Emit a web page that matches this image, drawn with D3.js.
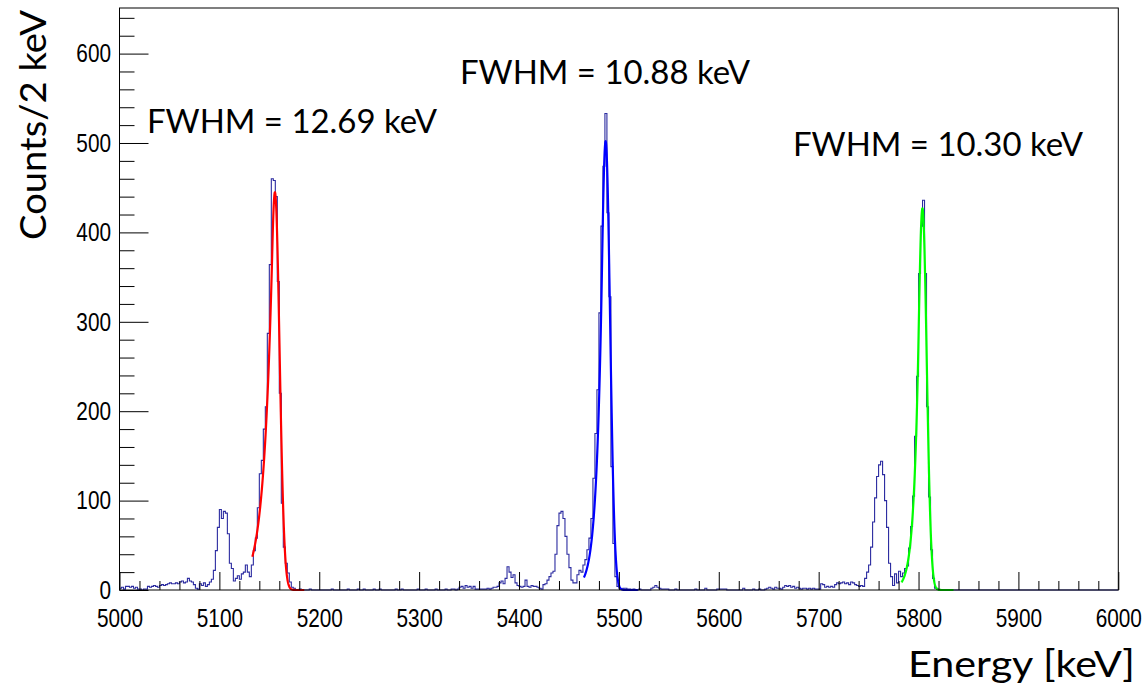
<!DOCTYPE html>
<html>
<head>
<meta charset="utf-8">
<script src="https://cdn.jsdelivr.net/npm/d3@7"></script>
<style>
  html, body { margin: 0; padding: 0; background: #ffffff; }
  svg { display: block; }
</style>
</head>
<body>
<svg id="chart" width="1148" height="689"></svg>
<script>
// Alpha spectrum: counts per 2 keV bin, 5000 - 6000 keV
const binWidth = 2;
const energyMin = 5000;
const energyMax = 6000;

const counts5000 = [2,3,1,4,4,3,4,2,3,1, 1,0,1,1,4,3,4,5,4,3, 5,6,5,6,7,8,7,7,8,7,
                    9,10,8,9,13,10,9,6,2,1, 7,5,8,4,6,9,12,22,44,70];
const counts5100 = [90,80,88,86,63,30,24,10,13,16, 12,18,20,28,20,15,28,44,58,92,
                    130,145,180,205,287,364,460,458,440,345, 220,97,48,30,19,9,3,2,0,0,
                    1,0,0,0,0,1,0,0,0,0];
const counts5200 = [0,0,0,0,0,0,1,0,0,0, 0,0,0,0,1,0,0,0,0,1, 0,0,1,0,0,0,0,1,0,0,
                    1,0,0,0,0,0,0,0,1,0, 0,1,0,0,0,0,0,0,0,1];
const counts5300 = [0,0,0,1,0,0,0,0,1,0, 0,0,0,1,0,0,1,1,0,1, 3,4,2,5,3,4,2,4,1,1,
                    1,1,1,1,2,1,2,3,3,4, 8,10,7,13,26,20,14,17,8,5];
const counts5400 = [4,3,4,11,4,3,5,4,4,3, 2,1,6,7,11,15,19,21,40,72, 86,88,80,60,40,25,11,8,8,17,
                    22,20,28,34,45,58,80,125,175,224, 310,407,474,533,422,328,138,52,15,4];
const counts5500 = [2,1,2,2,1,1,0,1,0,0, 1,0,0,0,0,0,2,3,5,3, 2,1,1,1,1,0,0,0,1,0,
                    0,0,0,0,0,0,0,0,1,0, 0,0,0,2,0,0,0,0,0,1];
const counts5600 = [1,1,1,1,0,0,0,0,0,0, 0,0,2,0,0,0,0,1,0,0, 1,0,0,1,2,3,2,1,3,2,
                    2,1,3,5,4,5,3,4,2,3, 2,1,2,2,1,2,1,2,1,1];
const counts5700 = [1,7,6,3,4,3,4,3,6,8, 7,8,9,7,8,6,9,8,6,5, 4,5,4,13,20,28,48,76,103,127,
                    140,144,129,100,70,30,15,5,18,8, 21,15,19,24,27,47,71,105,172,239];
const counts5800 = [354,407,436,354,205,104,45,13,2,1, 0,0,0,0,0,0,0,0,0,0, 0,0,0,0,0,0,0,0,0,0,
                    0,0,0,0,0,0,0,0,0,0, 0,0,0,0,0,0,0,0,0,0];
const counts5900 = [0,0,0,0,0,0,0,0,0,0, 0,0,0,0,0,0,0,0,0,0, 0,0,0,0,0,0,0,0,0,0,
                    0,0,0,0,0,0,0,0,0,0, 0,0,0,0,0,0,0,0,0,0];

// Peak fits: Gaussian core with an exponential low-energy tail
const fitAmplitude = [445, 502, 427];
const fitMean      = [5155.6, 5486.7, 5803.9];
const fitFWHM      = [12.69, 10.88, 10.30];
const fitTail      = [0.54, 0.80, 0.88];
const fitFrom      = [5133, 5465, 5783];
const fitTo        = [5185, 5519, 5835];

const xTickValues = [5000, 5100, 5200, 5300, 5400, 5500, 5600, 5700, 5800, 5900, 6000];
const yTickValues = [0, 100, 200, 300, 400, 500, 600];

const xTitle = "Energy [keV]";
const yTitle = "Counts/2 keV";

// ---------------------------------------------------------------------------
const counts = [].concat(counts5000, counts5100, counts5200, counts5300, counts5400,
                         counts5500, counts5600, counts5700, counts5800, counts5900);
const bins = counts.map((c, i) => ({ e: energyMin + i * binWidth, c }));

const frame = { left: 119.5, right: 1118.3, top: 8, bottom: 590 };
const x = d3.scaleLinear().domain([energyMin, energyMax]).range([frame.left, frame.right]);
const y = d3.scaleLinear().domain([0, 651]).range([frame.bottom, frame.top]);

const svg = d3.select("#chart");
const fitColors = ["#ff0000", "#0000ff", "#00ff00"];

// histogram outline
const stepLine = d3.line()
  .x(d => x(d.e))
  .y(d => y(d.c))
  .curve(d3.curveStepAfter);
const histPoints = bins.concat([{ e: energyMax, c: counts[counts.length - 1] }]);
svg.append("path")
  .attr("d", stepLine(histPoints))
  .attr("fill", "none")
  .attr("stroke", "#2b2ba0")
  .attr("stroke-width", 1.1);

// fitted peak shapes
function tailedGauss(e, amp, mean, fwhm, k) {
  const sigma = fwhm / (Math.sqrt(2 * Math.LN2) + (Math.LN2 + k * k / 2) / k);
  const t = (e - mean) / sigma;
  return amp * (t >= -k ? Math.exp(-0.5 * t * t) : Math.exp(0.5 * k * k + k * t));
}
const fitLine = d3.line().x(d => x(d[0])).y(d => y(d[1]));
fitMean.forEach((m, i) => {
  const pts = d3.range(fitFrom[i], fitTo[i] + 0.001, 0.25)
    .map(e => [e, tailedGauss(e, fitAmplitude[i], m, fitFWHM[i], fitTail[i])]);
  svg.append("path")
    .attr("d", fitLine(pts))
    .attr("fill", "none")
    .attr("stroke", fitColors[i])
    .attr("stroke-width", 2.2)
    .attr("stroke-linejoin", "round");
});

// frame
svg.append("rect")
  .attr("x", frame.left).attr("y", frame.top)
  .attr("width", frame.right - frame.left).attr("height", frame.bottom - frame.top)
  .attr("fill", "none").attr("stroke", "#000").attr("stroke-width", 1);

// axes: ticks point inward, minor ticks every 20 units
const xMinor = d3.range(energyMin, energyMax + 1, 20).filter(v => v % 100 !== 0);
const yMinor = d3.range(0, 651, 20).filter(v => v % 100 !== 0);

const gx = svg.append("g").attr("transform", `translate(0,${frame.bottom})`);
gx.call(d3.axisBottom(x).tickValues(xTickValues).tickSize(-18).tickPadding(19).tickFormat(d3.format("d")));
const gxm = svg.append("g").attr("transform", `translate(0,${frame.bottom})`);
gxm.call(d3.axisBottom(x).tickValues(xMinor).tickSize(-9).tickFormat(""));

const gy = svg.append("g").attr("transform", `translate(${frame.left},0)`);
gy.call(d3.axisLeft(y).tickValues(yTickValues).tickSize(-29).tickPadding(9).tickFormat(d3.format("d")));
const gym = svg.append("g").attr("transform", `translate(${frame.left},0)`);
gym.call(d3.axisLeft(y).tickValues(yMinor).tickSize(-15).tickFormat(""));

svg.selectAll(".domain").remove();
svg.selectAll(".tick line").attr("stroke", "#000").attr("stroke-width", 1);
svg.selectAll(".tick text")
  .attr("font-family", "'Liberation Sans', Arial, sans-serif")
  .attr("font-size", 26)
  .attr("fill", "#000");
gx.selectAll(".tick text").attr("transform", "scale(0.8,1)");
gy.selectAll(".tick text").attr("x", -10.6).attr("transform", "scale(0.8,1)");

// axis titles
svg.append("text")
  .attr("x", 1135).attr("y", 677)
  .attr("text-anchor", "end")
  .attr("font-family", "Lato, 'Open Sans', sans-serif")
  .attr("font-size", 36)
  .attr("textLength", 227).attr("lengthAdjust", "spacingAndGlyphs")
  .text(xTitle);

svg.append("text")
  .attr("transform", "translate(46,125) rotate(-90)")
  .attr("text-anchor", "middle")
  .attr("font-family", "Lato, 'Open Sans', sans-serif")
  .attr("font-size", 37)
  .attr("textLength", 230).attr("lengthAdjust", "spacingAndGlyphs")
  .text(yTitle);

// resolution labels
const labelPos = [[147, 133], [460, 84], [793, 156]];
fitFWHM.forEach((w, i) => {
  svg.append("text")
    .attr("x", labelPos[i][0]).attr("y", labelPos[i][1])
    .attr("font-family", "Lato, 'Open Sans', sans-serif")
    .attr("font-size", 33)
    .attr("textLength", 290).attr("lengthAdjust", "spacingAndGlyphs")
    .text(`FWHM = ${w.toFixed(2)} keV`);
});
</script>
</body>
</html>
